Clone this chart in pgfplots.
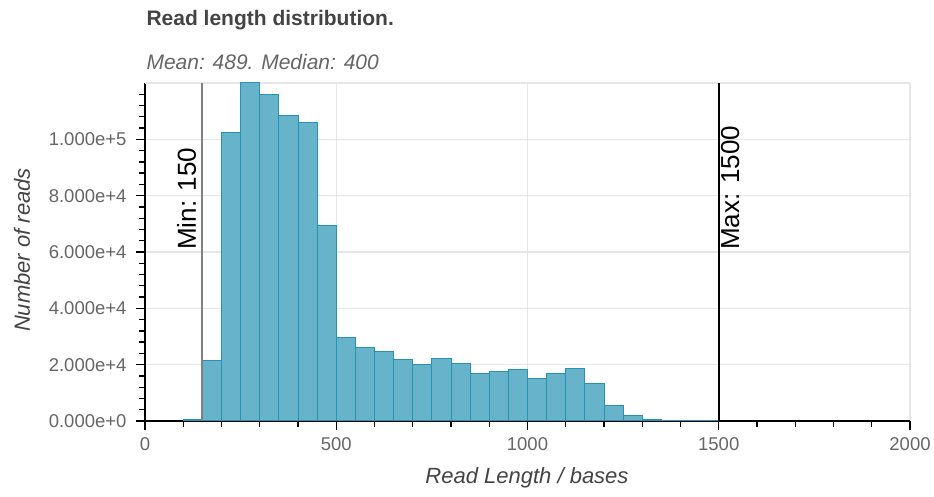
\documentclass[border=0pt]{standalone}
\usepackage{fontspec}
\setmainfont{Liberation Sans}
\usepackage{pgfplots}
\pgfplotsset{compat=1.18}
\definecolor{barfill}{HTML}{67B3C9}
\definecolor{baredge}{HTML}{2593B3}
\definecolor{gridc}{HTML}{E6E6E6}
\definecolor{tickc}{HTML}{666666}
\definecolor{labc}{HTML}{444444}
\definecolor{minc}{HTML}{808080}
\begin{document}
\begin{tikzpicture}
\useasboundingbox (-145pt,-76pt) rectangle (789pt,421pt);
\begin{axis}[
  at={(0pt,0pt)}, anchor=south west,
  scale only axis, width=765pt, height=338pt,
  xmin=0, xmax=2000, ymin=0, ymax=120000,
  axis x line*=bottom, axis y line*=left,
  axis line style={black, line width=1.3pt, -},
  xtick={0,500,1000,1500,2000},
  xticklabels={0,500,1000,1500,2000},
  ytick={0,20000,40000,60000,80000,100000},
  yticklabels={0.000e+0,2.000e+4,4.000e+4,6.000e+4,8.000e+4,1.000e+5},
  minor xtick={100,200,...,1900},
  minor ytick={4000,8000,...,116000},
  tick align=outside, major tick length=9pt, minor tick length=6pt,
  every tick/.style={black, line width=1.3pt},
  grid=major, major grid style={gridc, line width=1.3pt},
  ticklabel style={font=\fontsize{18.5}{20}\selectfont, text=tickc},
  yticklabel style={xshift=-6pt},
  xticklabel style={yshift=-4pt},
  scaled y ticks=false,
  /pgf/number format/assume math mode=true,
  clip=false,
]
\draw[gridc, line width=1.3pt] (axis cs:0,120000) -- (axis cs:2000,120000);
\addplot[ybar interval, fill=barfill, draw=baredge, line width=1pt] coordinates {
(100,700)(150,21600)(200,102400)(250,120000)(300,115800)(350,108300)(400,105800)(450,69400)
(500,29500)(550,26000)(600,24600)(650,21700)(700,20100)(750,22300)(800,20300)(850,16900)
(900,17400)(950,18200)(1000,15200)(1050,16900)(1100,18500)(1150,13200)(1200,5600)(1250,1800)
(1300,600)(1350,300)(1400,200)(1450,100)(1500,0)};
\addplot[minc, line width=1.8pt] coordinates {(150,0)(150,120000)};
\addplot[black, line width=1.8pt] coordinates {(1500,0)(1500,120000)};
\node[rotate=90, anchor=south west, inner xsep=2pt, inner ysep=6pt, font=\fontsize{26}{26}\selectfont] at (axis cs:150,60000) {Min: 150};
\node[rotate=90, anchor=north west, inner sep=2pt, font=\fontsize{26}{26}\selectfont] at (axis cs:1500,60000) {Max: 1500};
\end{axis}
\node[anchor=base west, font=\bfseries\fontsize{21}{21}\selectfont, text=labc] at (-2pt,395pt) {Read length distribution.};
\node[anchor=base west, font=\itshape\fontsize{21}{21}\selectfont, text=tickc] at (-2pt,351pt) {Mean: 489. Median: 400};
\node[font=\itshape\fontsize{22}{22}\selectfont, text=labc] at (382pt,-57pt) {Read Length / bases};
\node[rotate=90, font=\itshape\fontsize{22}{22}\selectfont, text=labc] at (-123pt,171pt) {Number of reads};
\end{tikzpicture}
\end{document}
